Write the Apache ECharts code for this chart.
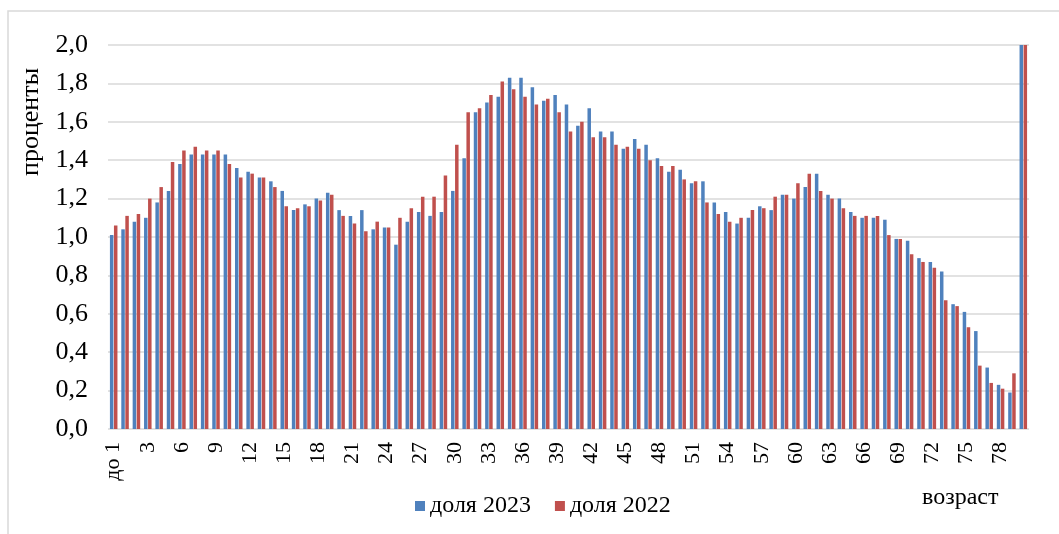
<!DOCTYPE html>
<html>
<head>
<meta charset="utf-8">
<script src="https://cdn.jsdelivr.net/npm/echarts@6/dist/echarts.min.js"></script>
<style>
    html, body { margin: 0; padding: 0; background: #fff; }
    #chart { width: 1059px; height: 534px; }
</style>
</head>
<body>
<div id="chart"></div>
<script>
    // возраст: до 1, 1..79, последняя группа (выходит за шкалу)
    var ages = ['до 1'];
    for (var a = 1; a <= 80; a++) ages.push(String(a));

    var share2023 = [
        1.01, 1.04, 1.08, 1.10, 1.18, 1.24, 1.38, 1.43, 1.43, 1.43,
        1.43, 1.36, 1.34, 1.31, 1.29, 1.24, 1.14, 1.17, 1.20, 1.23,
        1.14, 1.11, 1.14, 1.04, 1.05, 0.96, 1.08, 1.13, 1.11, 1.13,
        1.24, 1.41, 1.65, 1.70, 1.73, 1.83, 1.83, 1.78, 1.71, 1.74,
        1.69, 1.58, 1.67, 1.55, 1.55, 1.46, 1.51, 1.48, 1.41, 1.34,
        1.35, 1.28, 1.29, 1.18, 1.13, 1.07, 1.10, 1.16, 1.14, 1.22,
        1.20, 1.26, 1.33, 1.22, 1.20, 1.13, 1.10, 1.10, 1.09, 0.99,
        0.98, 0.89, 0.87, 0.82, 0.65, 0.61, 0.51, 0.32, 0.23, 0.19,
        3.0
    ];
    var share2022 = [
        1.06, 1.11, 1.12, 1.20, 1.26, 1.39, 1.45, 1.47, 1.45, 1.45,
        1.38, 1.31, 1.33, 1.31, 1.26, 1.16, 1.15, 1.16, 1.19, 1.22,
        1.11, 1.07, 1.03, 1.08, 1.05, 1.10, 1.15, 1.21, 1.21, 1.32,
        1.48, 1.65, 1.67, 1.74, 1.81, 1.77, 1.73, 1.69, 1.72, 1.65,
        1.55, 1.60, 1.52, 1.52, 1.48, 1.47, 1.46, 1.40, 1.37, 1.37,
        1.30, 1.29, 1.18, 1.12, 1.08, 1.10, 1.14, 1.15, 1.21, 1.22,
        1.28, 1.33, 1.24, 1.20, 1.15, 1.11, 1.11, 1.11, 1.01, 0.99,
        0.91, 0.87, 0.84, 0.67, 0.64, 0.53, 0.33, 0.24, 0.21, 0.29,
        3.1
    ];
    var seriesNames = ['доля 2023', 'доля 2022'];

    var font = '"Liberation Serif", "Times New Roman", serif';

    var myChart = echarts.init(document.getElementById('chart'));
    var option = {
        animation: false,
        textStyle: { fontFamily: font },
        grid: {
            left: 108,
            right: 30,
            top: 45,
            bottom: 105,
            containLabel: false
        },
        legend: {
            left: 410,
            top: 489,
            itemWidth: 10,
            itemHeight: 10,
            itemGap: 24,
            icon: 'rect',
            textStyle: { fontFamily: font, fontSize: 24, color: '#000' },
            data: seriesNames
        },
        xAxis: {
            type: 'category',
            data: ages,
            axisLine: { show: false },
            axisTick: { show: false },
            axisLabel: {
                interval: 2,
                rotate: 90,
                margin: 13,
                fontFamily: font,
                fontSize: 22,
                color: '#000'
            }
        },
        yAxis: {
            type: 'value',
            min: 0,
            max: 2,
            interval: 0.2,
            axisLine: { show: false },
            axisTick: { show: false },
            splitLine: { lineStyle: { color: '#d9d9d9', width: 1.5 } },
            axisLabel: {
                margin: 20,
                fontFamily: font,
                fontSize: 26,
                color: '#000',
                formatter: function (v) {
                    return v.toFixed(1).replace('.', ',');
                }
            }
        },
        series: [{
            name: seriesNames[0],
            type: 'bar',
            data: share2023,
            barWidth: 3.5,
            barGap: '15%',
            itemStyle: { color: '#4f81bd' }
        }, {
            name: seriesNames[1],
            type: 'bar',
            data: share2022,
            barWidth: 3.5,
            itemStyle: { color: '#c0504d' }
        }],
        graphic: [{
            type: 'rect',
            shape: { x: 8, y: 11, width: 1100, height: 600 },
            style: { fill: null, stroke: '#d9d9d9', lineWidth: 1.5 },
            silent: true
        }, {
            type: 'text',
            left: 922,
            top: 486,
            style: { text: 'возраст', font: '24px ' + font, fill: '#000' }
        }, {
            type: 'text',
            x: 18,
            y: 176,
            rotation: Math.PI / 2,
            style: { text: 'проценты', font: '26px ' + font, fill: '#000' }
        }]
    };
    myChart.setOption(option);
</script>
</body>
</html>
